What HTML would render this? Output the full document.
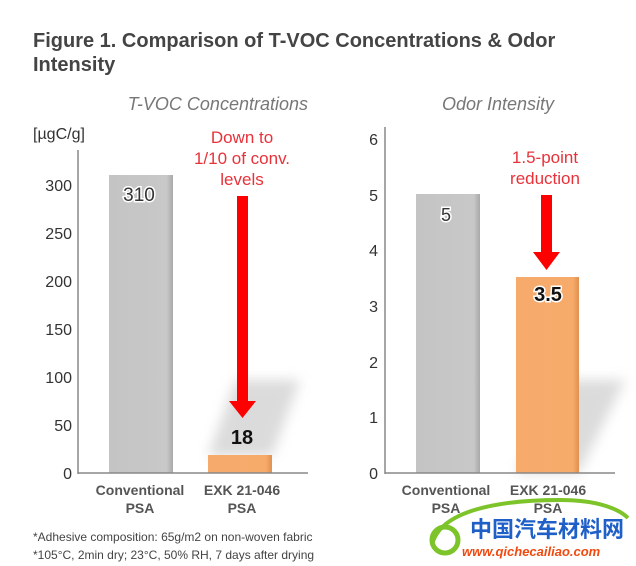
<!DOCTYPE html>
<html><head><meta charset="utf-8"><style>
html,body{margin:0;padding:0;background:#fff;}
svg{display:block;font-family:"Liberation Sans",sans-serif;}
</style></head><body>
<svg width="636" height="566" viewBox="0 0 636 566" xmlns="http://www.w3.org/2000/svg">
<defs>
<filter id="bl" x="-50%" y="-50%" width="200%" height="200%"><feGaussianBlur stdDeviation="6"/></filter>
<linearGradient id="gb" x1="0" x2="1"><stop offset="0" stop-color="#c4c4c4"/><stop offset="0.9" stop-color="#c8c8c8"/><stop offset="1" stop-color="#a9a9a9"/></linearGradient>
<linearGradient id="ob" x1="0" x2="1"><stop offset="0" stop-color="#f6aa6c"/><stop offset="0.9" stop-color="#f7ab6b"/><stop offset="1" stop-color="#e0904f"/></linearGradient>
</defs>
<text x="33" y="47" font-size="20" font-weight="bold" fill="#444">Figure 1. Comparison of T-VOC Concentrations &amp; Odor</text>
<text x="33" y="71" font-size="20" font-weight="bold" fill="#444">Intensity</text>

<!-- Left chart -->
<text x="308" y="110" font-size="18" font-style="italic" fill="#777" text-anchor="end">T-VOC Concentrations</text>
<text x="33" y="139" font-size="16" fill="#333">[µgC/g]</text>
<polygon points="208,456 272,456 300,380 236,380" fill="#ccc" opacity="0.7" filter="url(#bl)"/>
<g font-size="16" fill="#333" text-anchor="end">
<text x="72" y="479">0</text><text x="72" y="431">50</text><text x="72" y="383">100</text>
<text x="72" y="335">150</text><text x="72" y="287">200</text><text x="72" y="239">250</text><text x="72" y="191">300</text>
</g>
<rect x="109" y="175" width="64" height="298" fill="url(#gb)"/>
<rect x="208" y="455" width="64" height="18" fill="url(#ob)"/>
<line x1="78" y1="150" x2="78" y2="474" stroke="#888" stroke-width="1.5"/>
<line x1="78" y1="473" x2="308" y2="473" stroke="#888" stroke-width="1.5"/>
<text x="139" y="201" font-size="19" fill="#333" stroke="#fff" stroke-width="3" paint-order="stroke" text-anchor="middle">310</text>
<text x="242" y="444" font-size="20" font-weight="bold" fill="#111" text-anchor="middle">18</text>
<g font-size="17" fill="#e8323a" text-anchor="middle">
<text x="242" y="143">Down to</text><text x="242" y="164">1/10 of conv.</text><text x="242" y="185">levels</text>
</g>
<rect x="237" y="196" width="11" height="206" fill="#f00"/>
<polygon points="229,401 256,401 242.5,418" fill="#f00"/>
<g font-size="14" font-weight="bold" fill="#555" text-anchor="middle">
<text x="140" y="495">Conventional</text><text x="140" y="513">PSA</text>
<text x="242" y="495">EXK 21-046</text><text x="242" y="513">PSA</text>
</g>

<!-- Right chart -->
<text x="498" y="110" font-size="18" font-style="italic" fill="#777" text-anchor="middle">Odor Intensity</text>
<polygon points="516,473 579,473 625,380 560,380" fill="#ccc" opacity="0.7" filter="url(#bl)"/>
<g font-size="16" fill="#333" text-anchor="end">
<text x="378" y="479">0</text><text x="378" y="423">1</text><text x="378" y="368">2</text>
<text x="378" y="312">3</text><text x="378" y="256">4</text><text x="378" y="201">5</text><text x="378" y="145">6</text>
</g>
<rect x="416" y="194" width="64" height="279" fill="url(#gb)"/>
<rect x="516" y="277" width="63" height="196" fill="url(#ob)"/>
<line x1="385" y1="127" x2="385" y2="474" stroke="#888" stroke-width="1.5"/>
<line x1="385" y1="473" x2="615" y2="473" stroke="#888" stroke-width="1.5"/>
<text x="446" y="221" font-size="18" fill="#333" stroke="#fff" stroke-width="3" paint-order="stroke" text-anchor="middle">5</text>
<text x="548" y="301" font-size="20" font-weight="bold" fill="#111" stroke="#fff" stroke-width="3" paint-order="stroke" text-anchor="middle">3.5</text>
<g font-size="17" fill="#e8323a" text-anchor="middle">
<text x="545" y="163">1.5-point</text><text x="545" y="184">reduction</text>
</g>
<rect x="541" y="195" width="11" height="58" fill="#f00"/>
<polygon points="533,252 560,252 546.5,270" fill="#f00"/>
<g font-size="14" font-weight="bold" fill="#555" text-anchor="middle">
<text x="446" y="495">Conventional</text><text x="446" y="513">PSA</text>
<text x="548" y="495">EXK 21-046</text><text x="548" y="513">PSA</text>
</g>

<!-- footnotes -->
<text x="33" y="541" font-size="12" fill="#444">*Adhesive composition: 65g/m2 on non-woven fabric</text>
<text x="33" y="559" font-size="12" fill="#444">*105°C, 2min dry; 23°C, 50% RH, 7 days after drying</text>

<!-- watermark -->
<path d="M432,545 C440,510 500,500 560,500 C600,500 620,510 628,518" fill="none" stroke="#7dc42b" stroke-width="4"/>
<circle cx="445" cy="540" r="13" fill="none" stroke="#7dc42b" stroke-width="5"/>
<text x="470" y="537" font-size="22" font-weight="bold" fill="#1f5fc8" font-family="'Noto Sans CJK SC',sans-serif">中国汽车材料网</text>
<text x="462" y="556" font-size="13" font-weight="bold" font-style="italic" fill="#f04a10">www.qichecailiao.com</text>
</svg>
</body></html>
